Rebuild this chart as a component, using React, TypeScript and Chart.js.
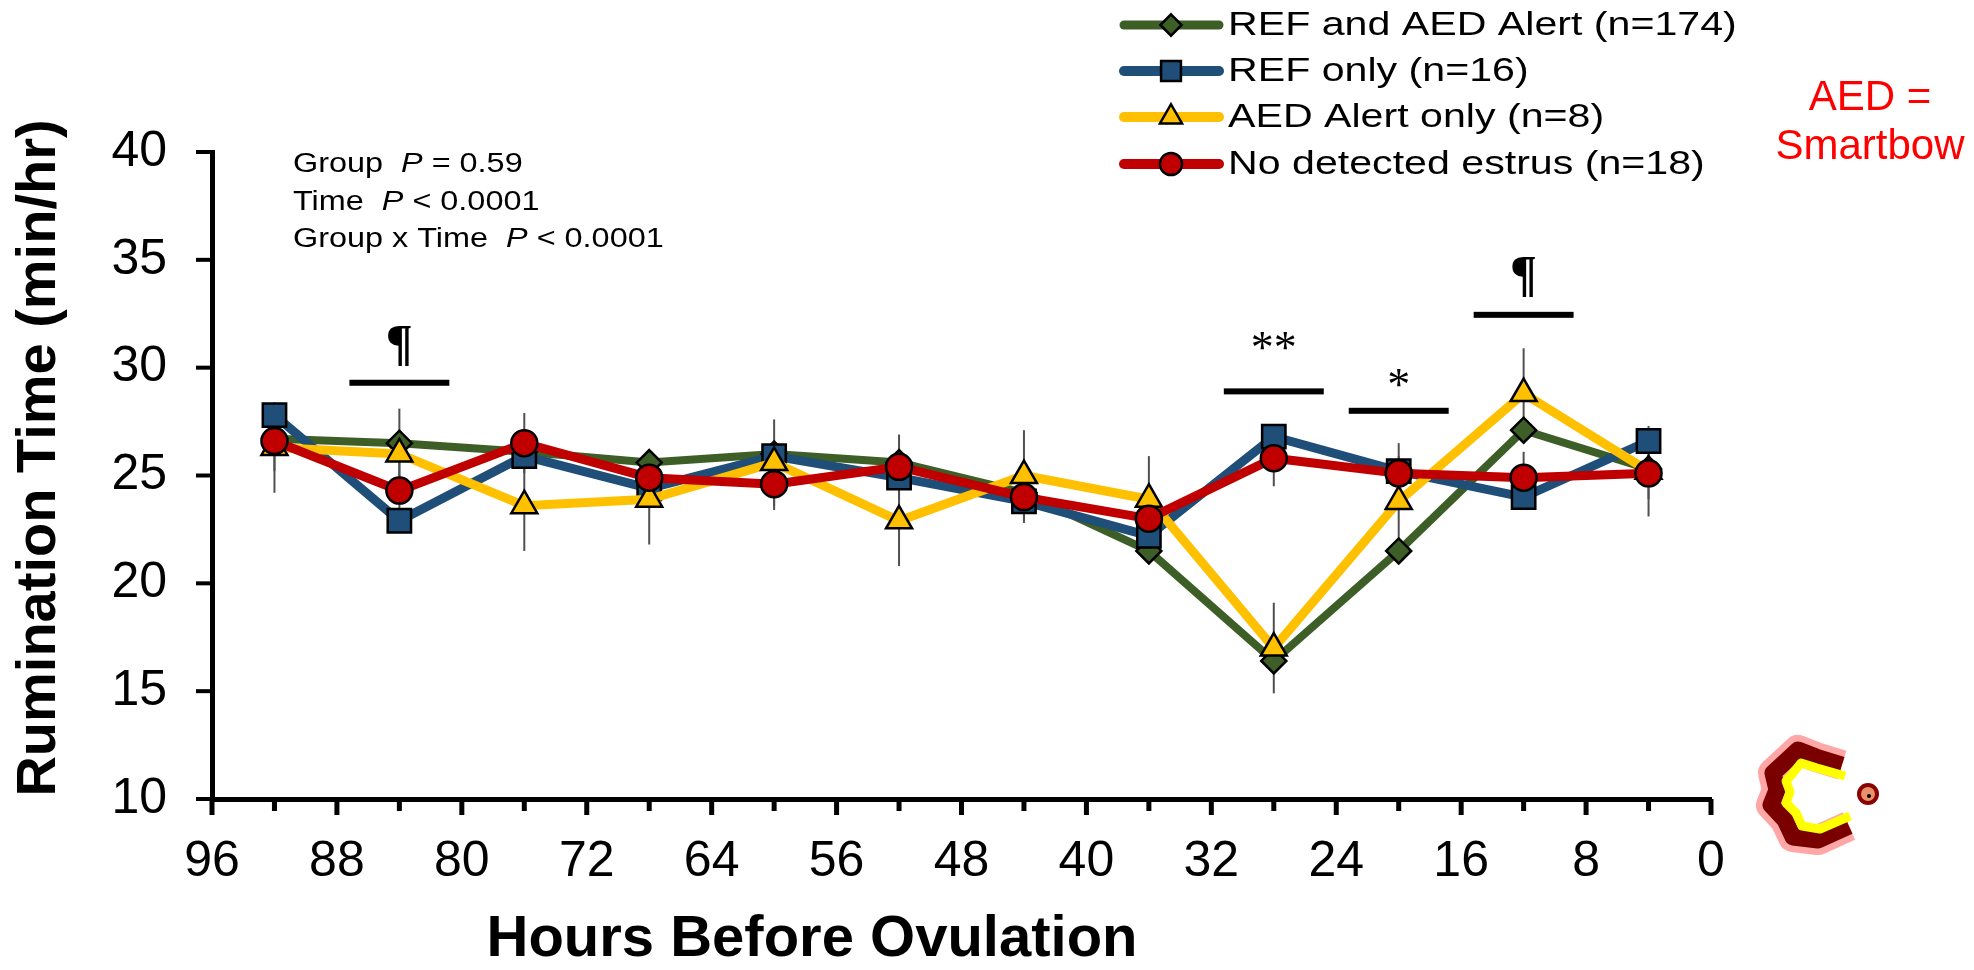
import React, { useEffect, useRef } from 'react';
import { Chart, registerables } from 'chart.js';

Chart.register(...registerables);

// ---------- data ----------
const hours = [92, 84, 76, 68, 60, 52, 44, 36, 28, 20, 12, 4];
const refAndAed = [26.7, 26.5, 26.1, 25.6, 26.0, 25.6, 24.2, 21.5, 16.4, 21.5, 27.1, 25.3];
const refOnly = [27.8, 22.9, 25.9, 24.4, 25.9, 24.9, 23.8, 22.2, 26.8, 25.2, 24.0, 26.6];
const aedOnly = [26.3, 26.0, 23.6, 23.9, 25.6, 22.9, 25.0, 23.9, 17.0, 23.8, 28.8, 25.2];
const noEstrus = [26.6, 24.3, 26.5, 24.9, 24.6, 25.4, 24.0, 23.0, 25.8, 25.1, 24.9, 25.1];
const aedOnlySE = [2.1, 2.1, 2.1, 2.1, 2.0, 2.1, 2.1, 2.0, 2.1, 2.1, 2.1, 2.1];
const noEstrusSE = [1.4, 1.3, 1.4, 1.2, 1.2, 1.5, 1.2, 1.2, 1.3, 1.4, 1.2, 1.2];

const seriesNames = [
  'REF and AED Alert (n=174)',
  'REF only (n=16)',
  'AED Alert only (n=8)',
  'No detected estrus (n=18)',
];

const xMin = 0;
const xMax = 96;
const xStep = 8;
const yMin = 10;
const yMax = 40;
const yStep = 5;

const sigHours = [84, 28, 20, 12];
const sigLevels = [29.3, 28.9, 28.0, 32.45];
const sigMarks = ['\u00B6', '**', '*', '\u00B6'];
const sigMarkLevels = [30.4, 30.2, 28.5, 33.6];

const statLines = [
  ['Group  ', 'P', ' = 0.59'],
  ['Time  ', 'P', ' < 0.0001'],
  ['Group x Time  ', 'P', ' < 0.0001'],
];
const xTitle = 'Hours Before Ovulation';
const yTitle = 'Rumination Time (min/hr)';
const noteLines = ['AED =', 'Smartbow'];

// ---------- styles ----------
const SANS = '"Liberation Sans", Arial, sans-serif';
const SERIF = '"Liberation Serif", "Times New Roman", serif';
const colors = ['#3D5F27', '#1F4E79', '#FFC000', '#C00000'];
const pointStyles = ['rectRot', 'rect', 'triangle', 'circle'];
const pointRadii = [12.5, 16.5, 15, 13];
const lineWidths = [8, 9, 9, 9];

function markerPath(ctx: CanvasRenderingContext2D, style: string, x: number, y: number, r: number) {
  ctx.beginPath();
  if (style === 'circle') {
    ctx.arc(x, y, r, 0, Math.PI * 2);
  } else if (style === 'rect') {
    const s = r * Math.SQRT1_2;
    ctx.rect(x - s, y - s, 2 * s, 2 * s);
  } else if (style === 'rectRot') {
    ctx.moveTo(x, y - r);
    ctx.lineTo(x + r, y);
    ctx.lineTo(x, y + r);
    ctx.lineTo(x - r, y);
    ctx.closePath();
  } else {
    ctx.moveTo(x, y - r);
    ctx.lineTo(x + r * 0.866, y + r * 0.5);
    ctx.lineTo(x - r * 0.866, y + r * 0.5);
    ctx.closePath();
  }
}

function stretchedText(
  ctx: CanvasRenderingContext2D,
  text: string,
  x: number,
  y: number,
  font: string,
  sx: number,
  align: 'left' | 'center' | 'right' = 'left'
) {
  ctx.save();
  ctx.font = font;
  const w = ctx.measureText(text).width * sx;
  const x0 = align === 'center' ? x - w / 2 : align === 'right' ? x - w : x;
  ctx.translate(x0, y);
  ctx.scale(sx, 1);
  ctx.textAlign = 'left';
  ctx.fillText(text, 0, 0);
  ctx.restore();
  return w;
}

const overlayPlugin = {
  id: 'overlay',
  beforeDatasetsDraw(chart: any) {
    const ctx: CanvasRenderingContext2D = chart.ctx;
    const xs = chart.scales.x;
    const ys = chart.scales.y;
    ctx.save();
    ctx.strokeStyle = '#505050';
    ctx.lineWidth = 2;
    const drawErr = (vals: number[], se: number[]) => {
      hours.forEach((h, i) => {
        const px = xs.getPixelForValue(h);
        ctx.beginPath();
        ctx.moveTo(px, ys.getPixelForValue(vals[i] - se[i]));
        ctx.lineTo(px, ys.getPixelForValue(vals[i] + se[i]));
        ctx.stroke();
      });
    };
    drawErr(aedOnly, aedOnlySE);
    drawErr(noEstrus, noEstrusSE);
    ctx.restore();
  },
  afterDraw(chart: any) {
    const ctx: CanvasRenderingContext2D = chart.ctx;
    const xs = chart.scales.x;
    const ys = chart.scales.y;
    const area = chart.chartArea;
    ctx.save();

    // tick marks
    ctx.fillStyle = '#000';
    for (let v = xMin; v <= xMax; v += xStep / 2) {
      const px = xs.getPixelForValue(v);
      const major = v % xStep === 0;
      const len = major ? 16 : 12;
      ctx.fillRect(px - 2.5, area.bottom, 5, len);
    }
    for (let v = yMin; v <= yMax; v += yStep) {
      const py = ys.getPixelForValue(v);
      ctx.fillRect(area.left - 16, py - 2, 16, 4);
    }

    // significance bars and marks
    ctx.fillStyle = '#000';
    sigHours.forEach((h, i) => {
      const x1 = xs.getPixelForValue(h + 3.2);
      const x2 = xs.getPixelForValue(h - 3.2);
      const py = ys.getPixelForValue(sigLevels[i]);
      ctx.fillRect(Math.min(x1, x2), py - 3, Math.abs(x2 - x1), 6);
      const isPil = sigMarks[i] === '\u00B6';
      ctx.font = (isPil ? 'bold 50px ' : '46px ') + SERIF;
      ctx.textAlign = 'center';
      ctx.textBaseline = 'alphabetic';
      ctx.fillText(sigMarks[i], xs.getPixelForValue(h), ys.getPixelForValue(sigMarkLevels[i]));
    });

    // stats text
    ctx.fillStyle = '#000';
    ctx.textBaseline = 'alphabetic';
    statLines.forEach((runs, li) => {
      let x = 293;
      const y = 172 + li * 37.5;
      runs.forEach((t, ri) => {
        const font = (ri === 1 ? 'italic 27px ' : '27px ') + SANS;
        x += stretchedText(ctx, t, x, y, font, 1.2);
      });
    });

    // legend
    const legX1 = 1124;
    const legX2 = 1219;
    const legMid = 1171;
    const legText = 1228;
    const legRows = [25, 71, 117, 164];
    seriesNames.forEach((name, i) => {
      const y = legRows[i];
      ctx.strokeStyle = colors[i];
      ctx.lineWidth = lineWidths[i] + 1;
      ctx.lineCap = 'round';
      ctx.beginPath();
      ctx.moveTo(legX1, y);
      ctx.lineTo(legX2, y);
      ctx.stroke();
      ctx.lineCap = 'butt';
      markerPath(ctx, pointStyles[i], legMid, y, pointRadii[i] * 0.85);
      ctx.fillStyle = colors[i];
      ctx.fill();
      ctx.strokeStyle = '#000';
      ctx.lineWidth = 2.5;
      ctx.stroke();
      ctx.fillStyle = '#000';
      ctx.textBaseline = 'middle';
      stretchedText(ctx, name, legText, y + 1, '34px ' + SANS, 1.21);
    });

    // AED = Smartbow note
    ctx.fillStyle = '#FF0000';
    ctx.textBaseline = 'alphabetic';
    ctx.font = '42px ' + SANS;
    ctx.textAlign = 'center';
    ctx.fillText(noteLines[0], 1870, 110);
    ctx.fillText(noteLines[1], 1870, 159);

    // axis titles
    ctx.fillStyle = '#000';
    ctx.textAlign = 'center';
    ctx.textBaseline = 'middle';
    ctx.font = 'bold 58px ' + SANS;
    ctx.fillText(xTitle, 812, 940);
    ctx.save();
    ctx.translate(40, 458);
    ctx.rotate(-Math.PI / 2);
    ctx.font = 'bold 56px ' + SANS;
    ctx.fillText(yTitle, 0, 0);
    ctx.restore();

    // logo
    const outer = [
      [1842, 765], [1816, 757], [1798, 750], [1785, 762], [1773, 773], [1777, 790],
      [1771, 805], [1785, 820], [1793, 837], [1818, 840], [1849, 826],
    ];
    const inner = [
      [1845, 776], [1817, 768], [1801, 763], [1793, 773], [1786, 781], [1790, 792],
      [1786, 803], [1796, 813], [1802, 826], [1820, 829], [1850, 816],
    ];
    const poly = (pts: number[][]) => {
      ctx.beginPath();
      pts.forEach((p, k) => (k === 0 ? ctx.moveTo(p[0], p[1]) : ctx.lineTo(p[0], p[1])));
    };
    ctx.lineJoin = 'round';
    ctx.lineCap = 'butt';
    ctx.strokeStyle = 'rgba(255,130,130,0.7)';
    ctx.lineWidth = 30;
    poly(outer);
    ctx.stroke();
    ctx.strokeStyle = '#7A0000';
    ctx.lineWidth = 17;
    poly(outer);
    ctx.stroke();
    ctx.strokeStyle = '#FFFF00';
    ctx.lineWidth = 9;
    poly(inner);
    ctx.stroke();
    ctx.beginPath();
    ctx.arc(1868, 794, 9, 0, Math.PI * 2);
    ctx.fillStyle = '#E8926A';
    ctx.fill();
    ctx.strokeStyle = '#8B0000';
    ctx.lineWidth = 4;
    ctx.stroke();
    ctx.beginPath();
    ctx.arc(1869, 796, 2, 0, Math.PI * 2);
    ctx.fillStyle = '#000';
    ctx.fill();

    ctx.restore();
  },
};

export default function App() {
  const canvasRef = useRef<HTMLCanvasElement | null>(null);

  useEffect(() => {
    document.body.style.margin = '0';
    const canvas = canvasRef.current;
    if (!canvas) return;
    const series = [refAndAed, refOnly, aedOnly, noEstrus];
    const orders = [4, 3, 2, 1];
    const datasets = series.map((vals, i) => ({
      label: seriesNames[i],
      data: hours.map((h, k) => ({ x: h, y: vals[k] })),
      borderColor: colors[i],
      backgroundColor: colors[i],
      borderWidth: lineWidths[i],
      pointStyle: pointStyles[i],
      pointRadius: pointRadii[i],
      pointBackgroundColor: colors[i],
      pointBorderColor: '#000',
      pointBorderWidth: 2.5,
      tension: 0,
      order: orders[i],
    }));

    const chart = new Chart(canvas, {
      type: 'line',
      data: { datasets },
      options: {
        animation: false,
        responsive: false,
        devicePixelRatio: 1,
        layout: { padding: { left: 0, top: 152, right: 263, bottom: 0 } },
        plugins: {
          legend: { display: false },
          tooltip: { enabled: false },
        },
        scales: {
          x: {
            type: 'linear',
            min: xMin,
            max: xMax,
            reverse: true,
            grid: { display: false, drawTicks: false },
            border: { display: true, color: '#000', width: 5 },
            ticks: {
              stepSize: xStep,
              color: '#000',
              padding: 33,
              maxRotation: 0,
              autoSkip: false,
              font: { family: SANS, size: 50 },
            },
            afterFit: (s: any) => {
              s.height = 171;
            },
          },
          y: {
            type: 'linear',
            min: yMin,
            max: yMax,
            grid: { display: false, drawTicks: false },
            border: { display: true, color: '#000', width: 5 },
            ticks: {
              stepSize: yStep,
              color: '#000',
              padding: 45,
              font: { family: SANS, size: 50 },
            },
            afterFit: (s: any) => {
              s.width = 212;
            },
          },
        },
      } as any,
      plugins: [overlayPlugin],
    });
    return () => chart.destroy();
  }, []);

  return (
    <div style={{ width: 1974, height: 970, background: '#fff' }}>
      <canvas ref={canvasRef} width={1974} height={970} />
    </div>
  );
}
